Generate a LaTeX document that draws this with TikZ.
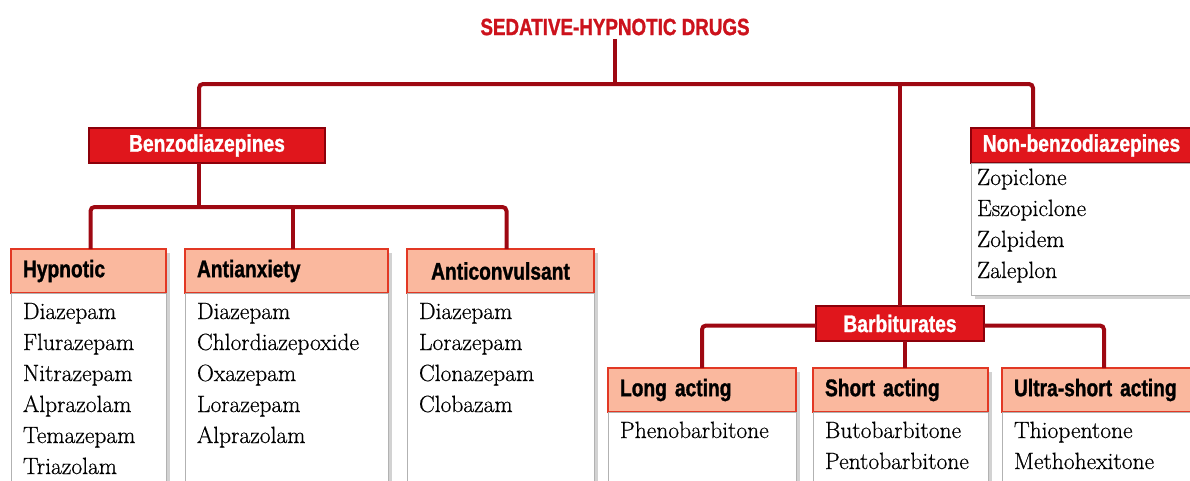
\documentclass[tikz,border=0pt]{standalone}
\usepackage{fontspec}
\usepackage{tikz}
\usetikzlibrary{positioning, shadows}
\newfontfamily\hdrfont[FakeStretch=0.8, BoldFeatures={FakeBold=1.2}]{Liberation Sans}
\newfontfamily\listfont[FakeBold=0.5]{Latin Modern Roman}
\definecolor{myred}{RGB}{224,22,28}
\definecolor{mydarkred}{RGB}{140,0,10}
\definecolor{mylink}{RGB}{158,8,18}
\definecolor{mysalmon}{RGB}{250,184,158}
\definecolor{myedge}{RGB}{226,56,36}
\definecolor{mytitle}{RGB}{204,18,28}
\tikzset{
  redbox/.style={rectangle, draw=mydarkred, fill=myred, line width=2.5pt,
    text=white, font=\hdrfont\bfseries\fontsize{24}{28}\selectfont,
    minimum height=35pt, inner xsep=6pt, outer sep=0pt},
  hdrbox/.style={rectangle, draw=myedge, fill=mysalmon, line width=1.5pt,
    font=\hdrfont\bfseries\fontsize{24}{28}\selectfont, align=left,
    minimum height=44pt, inner xsep=12pt, outer sep=0pt, anchor=north west,
    drop shadow={shadow xshift=4pt, shadow yshift=-4pt, fill=gray!70}},
  listbox/.style={rectangle, draw=gray!60, fill=white, line width=1pt,
    font=\listfont\fontsize{23.5}{31}\selectfont, align=left,
    inner xsep=12pt, inner ysep=9pt, outer sep=0pt,
    text height=17pt, text depth=180pt,
    drop shadow={shadow xshift=4pt, shadow yshift=-4pt, fill=gray!70}},
  link/.style={line width=4pt, color=mylink, rounded corners=4pt}
}
\begin{document}
\begin{tikzpicture}[x=1pt, y=-1pt]
  \useasboundingbox (0,0) rectangle (1190,480);

  % Title
  \node[font=\hdrfont\bfseries\fontsize{23.5}{26}\selectfont, text=mytitle] (title) at (615,27) {SEDATIVE-HYPNOTIC DRUGS};

  % Main groups
  \node[redbox, minimum width=236pt] (benzo) at (207,145.5) {Benzodiazepines};
  \node[redbox, minimum width=168pt] (barb) at (900,323.5) {Barbiturates};
  \node[redbox, minimum width=221pt, anchor=north west] (nonbenzo) at (971,128) {Non-benzodiazepines};
  \node[listbox, text width=209pt, inner xsep=6pt, inner ysep=5pt, text depth=105pt,
    below=0pt of nonbenzo] (nonbenzolist) {Zopiclone\\Eszopiclone\\Zolpidem\\Zaleplon};

  % Benzodiazepine uses
  \node[hdrbox, text width=131pt] (hyp) at (11,249) {Hypnotic};
  \node[hdrbox, text width=179pt] (anx) at (185,249) {Antianxiety};
  \node[hdrbox, text width=163pt, align=center] (conv) at (407,249) {Anticonvulsant};
  \node[listbox, text width=131pt, below=0pt of hyp] (hyplist)
    {Diazepam\\Flurazepam\\Nitrazepam\\Alprazolam\\Temazepam\\Triazolam};
  \node[listbox, text width=179pt, below=0pt of anx] (anxlist)
    {Diazepam\\Chlordiazepoxide\\Oxazepam\\Lorazepam\\Alprazolam};
  \node[listbox, text width=163pt, below=0pt of conv] (convlist)
    {Diazepam\\Lorazepam\\Clonazepam\\Clobazam};

  % Barbiturate classes
  \node[hdrbox, text width=164pt] (long) at (608,368) {Long acting};
  \node[hdrbox, text width=151pt] (short) at (813,368) {Short acting};
  \node[hdrbox, text width=180pt] (ultra) at (1002,368) {Ultra-short acting};
  \node[listbox, text width=164pt, below=0pt of long] (longlist) {Phenobarbitone};
  \node[listbox, text width=151pt, below=0pt of short] (shortlist) {Butobarbitone\\Pentobarbitone};
  \node[listbox, text width=180pt, below=0pt of ultra] (ultralist) {Thiopentone\\Methohexitone};

  % Connectors
  \coordinate (trunk) at (615,84);
  \coordinate (bsplit) at (199,207);
  \draw[link] (title.south) -- (trunk);
  \draw[link] ([xshift=-8pt]benzo.north) |- (trunk) -| ([xshift=62pt]nonbenzo.north west);
  \draw[link] (barb.north) -- (barb.north |- trunk);
  \draw[link] ([xshift=-8pt]benzo.south) -- (bsplit);
  \draw[link] ([xshift=2pt]hyp.north) |- (bsplit) -| ([xshift=6pt]conv.north);
  \draw[link] ([xshift=6pt]anx.north) -- ([xshift=6pt]anx.north |- bsplit);
  \draw[link] (long.north) |- ([yshift=-2pt]barb.west);
  \draw[link] (ultra.north) |- ([yshift=-2pt]barb.east);
  \draw[link] ([xshift=5pt]barb.south) -- ([xshift=5pt]barb.south |- short.north);
\end{tikzpicture}
\end{document}
